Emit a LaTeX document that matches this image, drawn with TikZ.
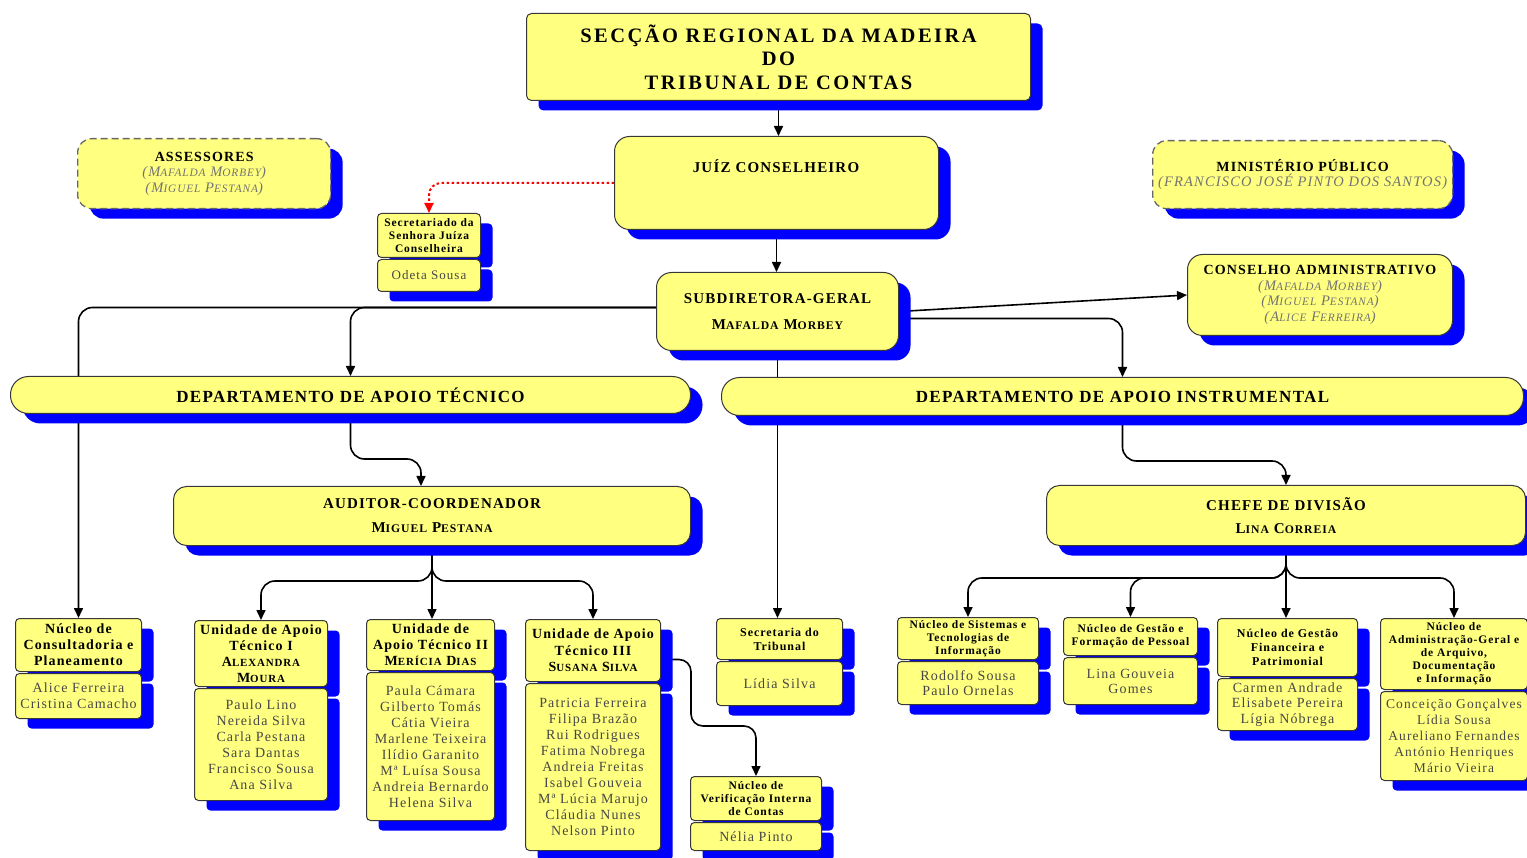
\documentclass[tikz,border=0pt]{standalone}
\usepackage{fontspec}
\setmainfont{Liberation Serif}[LetterSpace=8]
\newfontfamily\ttlfont{Liberation Serif}[LetterSpace=12]
\usetikzlibrary{arrows.meta,shadows}
\makeatletter
\newcommand\smc[1]{{\fontsize{\fpeval{0.78*\f@size}}{\f@baselineskip}\selectfont #1}}
\makeatother
\definecolor{boxfill}{RGB}{255,255,128}
\definecolor{shade}{RGB}{0,0,255}
\definecolor{edgec}{RGB}{55,55,55}
\pgfdeclarelayer{bg}
\pgfsetlayers{bg,main}
\tikzset{
  box/.style={draw=edgec, line width=1pt, fill=boxfill, rounded corners=4pt,
    inner sep=0pt, anchor=north west, align=center,
    drop shadow={shadow xshift=12pt, shadow yshift=-10pt, fill=shade, opacity=1}},
  dashbox/.style={box, draw=black!60, line width=1.3pt, dash pattern=on 7pt off 4pt, rounded corners=14pt},
  ttlf/.style={font=\ttlfont\bfseries\fontsize{20.5}{23.5}\selectfont},
  bigf/.style={font=\bfseries\fontsize{15}{26}\selectfont},
  deptf/.style={font=\bfseries\fontsize{17}{20}\selectfont},
  hdrL/.style={font=\bfseries\fontsize{14}{16}\selectfont},
  hdrS/.style={font=\bfseries\fontsize{11.5}{13}\selectfont},
  bodyf/.style={font=\fontsize{14}{16}\selectfont, text=black!72},
  namef/.style={font=\fontsize{14.5}{15.5}\selectfont},
  conn/.style={draw=black, line width=1.6pt, -{Triangle[length=10pt,width=9pt]}},
  redconn/.style={draw=red, line width=2pt, dash pattern=on 2.5pt off 2.5pt,
    -{Triangle[length=10pt,width=9pt]}},
}
\newcommand\nm[1]{{\itshape\color{black!55}#1}}
\begin{document}
\begin{tikzpicture}[x=1pt,y=-1pt]
\useasboundingbox (0,0) rectangle (1527,858);

% top
\node[box, rounded corners=5pt, minimum width=504pt, minimum height=87pt, ttlf] (title) at (526,13)
  {SECÇÃO REGIONAL DA MADEIRA\\DO\\TRIBUNAL DE CONTAS};
\node[box, rounded corners=15pt, minimum width=324pt, minimum height=93pt] (juiz) at (614,136) {};
\node[bigf, anchor=center, inner sep=0pt] (juizt) at (776,166) {JUÍZ CONSELHEIRO};

\node[dashbox, minimum width=253pt, minimum height=70pt, namef] (ass) at (77,138)
  {{\bfseries\fontsize{14}{16}\selectfont ASSESSORES}\\
   \nm{(M\smc{AFALDA} M\smc{ORBEY})}\\
   \nm{(M\smc{IGUEL} P\smc{ESTANA})}};
\node[dashbox, minimum width=300pt, minimum height=68pt, namef] (min) at (1152,140)
  {{\bfseries\fontsize{14}{16}\selectfont MINISTÉRIO PÚBLICO}\\
   \nm{(FRANCISCO JOSÉ PINTO DOS SANTOS)}};

\node[box, minimum width=103pt, minimum height=44pt, hdrS] (secJh) at (377,213)
  {Secretariado da\\Senhora Juíza\\Conselheira};
\node[box, minimum width=103pt, minimum height=32pt, bodyf, font=\fontsize{13}{15}\selectfont] (secJb) at (377,259)
  {Odeta Sousa};

\node[box, rounded corners=15pt, minimum width=242pt, minimum height=78pt, bigf] (sub) at (656,272)
  {SUBDIRETORA-GERAL\\M\smc{AFALDA} M\smc{ORBEY}};
\node[box, rounded corners=15pt, minimum width=265pt, minimum height=81pt, namef] (cons) at (1187,254)
  {{\bfseries\fontsize{14}{16}\selectfont CONSELHO ADMINISTRATIVO}\\
   \nm{(M\smc{AFALDA} M\smc{ORBEY})}\\
   \nm{(M\smc{IGUEL} P\smc{ESTANA})}\\
   \nm{(A\smc{LICE} F\smc{ERREIRA})}};

\node[box, rounded corners=18pt, minimum width=680pt, minimum height=37pt, deptf] (dat) at (10,376)
  {DEPARTAMENTO DE APOIO TÉCNICO};
\node[box, rounded corners=18pt, minimum width=802pt, minimum height=38pt, deptf] (dai) at (721,377)
  {DEPARTAMENTO DE APOIO INSTRUMENTAL};

\node[box, rounded corners=13pt, minimum width=517pt, minimum height=59pt, bigf, font=\bfseries\fontsize{15}{24}\selectfont] (aud) at (173,486)
  {AUDITOR-COORDENADOR\\M\smc{IGUEL} P\smc{ESTANA}};
\node[box, rounded corners=13pt, minimum width=479pt, minimum height=60pt, bigf, font=\bfseries\fontsize{15}{23}\selectfont] (chefe) at (1046,485)
  {CHEFE DE DIVISÃO\\L\smc{INA} C\smc{ORREIA}};

% bottom left
\node[box, minimum width=126pt, minimum height=53pt, hdrL] (nucAh) at (15,618)
  {Núcleo de\\Consultadoria e\\Planeamento};
\node[box, minimum width=126pt, minimum height=45pt, bodyf] (nucAb) at (15,673)
  {Alice Ferreira\\Cristina Camacho};

\node[box, minimum width=133pt, minimum height=66pt, hdrL] (ua1h) at (194,620)
  {Unidade de Apoio\\Técnico I\\A\smc{LEXANDRA}\\M\smc{OURA}};
\node[box, minimum width=133pt, minimum height=112pt, bodyf] (ua1b) at (194,688)
  {Paulo Lino\\Nereida Silva\\Carla Pestana\\Sara Dantas\\Francisco Sousa\\Ana Silva};

\node[box, minimum width=128pt, minimum height=51pt, hdrL] (ua2h) at (366,619)
  {Unidade de\\Apoio Técnico II\\M\smc{ERÍCIA} D\smc{IAS}};
\node[box, minimum width=128pt, minimum height=148pt, bodyf] (ua2b) at (366,672)
  {Paula Cámara\\Gilberto Tomás\\Cátia Vieira\\Marlene Teixeira\\Ilídio Garanito\\Mª Luísa Sousa\\Andreia Bernardo\\Helena Silva};

\node[box, minimum width=135pt, minimum height=62pt, hdrL, font=\bfseries\fontsize{14}{16.5}\selectfont] (ua3h) at (525,619)
  {Unidade de Apoio\\Técnico III\\S\smc{USANA} S\smc{ILVA}};
\node[box, minimum width=135pt, minimum height=167pt, bodyf] (ua3b) at (525,683)
  {Patricia Ferreira\\Filipa Brazão\\Rui Rodrigues\\Fatima Nobrega\\Andreia Freitas\\Isabel Gouveia\\Mª Lúcia Marujo\\Cláudia Nunes\\Nelson Pinto};

\node[box, minimum width=126pt, minimum height=41pt, hdrS, font=\bfseries\fontsize{12}{14}\selectfont] (secTh) at (716,618)
  {Secretaria do\\Tribunal};
\node[box, minimum width=126pt, minimum height=44pt, bodyf] (secTb) at (716,661)
  {Lídia Silva};

\node[box, minimum width=131pt, minimum height=44pt, hdrS] (nvich) at (690,776)
  {Núcleo de\\Verificação Interna\\de Contas};
\node[box, minimum width=131pt, minimum height=28pt, bodyf] (nvicb) at (690,822)
  {Nélia Pinto};

% bottom right
\node[box, minimum width=141pt, minimum height=42pt, hdrS] (nsh) at (897,617)
  {Núcleo de Sistemas e\\Tecnologias de\\Informação};
\node[box, minimum width=141pt, minimum height=43pt, bodyf, font=\fontsize{14}{15}\selectfont] (nsb) at (897,661)
  {Rodolfo Sousa\\Paulo Ornelas};

\node[box, minimum width=134pt, minimum height=38pt, hdrS] (ngph) at (1063,617)
  {Núcleo de Gestão e\\Formação de Pessoal};
\node[box, minimum width=134pt, minimum height=47pt, bodyf, font=\fontsize{14}{15}\selectfont] (ngpb) at (1063,657)
  {Lina Gouveia\\Gomes};

\node[box, minimum width=140pt, minimum height=58pt, hdrS, font=\bfseries\fontsize{12}{14}\selectfont] (ngfh) at (1217,618)
  {Núcleo de Gestão\\Financeira e\\Patrimonial};
\node[box, minimum width=140pt, minimum height=52pt, bodyf, font=\fontsize{14}{15.5}\selectfont] (ngfb) at (1217,678)
  {Carmen Andrade\\Elisabete Pereira\\Lígia Nóbrega};

\node[box, minimum width=147pt, minimum height=71pt, hdrS] (nadh) at (1380,618)
  {Núcleo de\\Administração-Geral e\\de Arquivo,\\Documentação\\e Informação};
\node[box, minimum width=147pt, minimum height=89pt, bodyf, font=\fontsize{13.5}{16}\selectfont] (nadb) at (1380,691)
  {Conceição Gonçalves\\Lídia Sousa\\Aureliano Fernandes\\António Henriques\\Mário Vieira};

% connectors
\begin{pgfonlayer}{bg}
\draw[conn] (title.south) -- (title.south |- juiz.north);
\draw[conn] (juiz.south) -- (juiz.south |- sub.north);
\draw[redconn, rounded corners=12pt] (juiz.west) -| (secJh.north);
\draw[conn, rounded corners=14pt] ([yshift=4pt]sub.west) -| (nucAh.north);
\draw[conn, rounded corners=14pt] ([yshift=4pt]sub.west) -| (dat.north);
\draw[conn] (sub.east) -- (cons.west);
\draw[conn, rounded corners=14pt] ([yshift=-7pt]sub.east) -| (dai.north);
\draw[conn] (sub.south) -- (sub.south |- secTh.north);
\draw[conn, rounded corners=14pt] (dat.south) -- ++(0,45) -| ([xshift=-11pt]aud.north);
\draw[conn, rounded corners=14pt] (dai.south) -- ++(0,45) -| (chefe.north);
\draw[conn, rounded corners=14pt] (aud.south) -- ++(0,35) -| (ua1h.north);
\draw[conn] (aud.south) -- (aud.south |- ua2h.north);
\draw[conn, rounded corners=14pt] (aud.south) -- ++(0,35) -| (ua3h.north);
\draw[conn, rounded corners=14pt] (chefe.south) -- ++(0,32) -| (nsh.north);
\draw[conn, rounded corners=14pt] (chefe.south) -- ++(0,32) -| (ngph.north);
\draw[conn] (chefe.south) -- (chefe.south |- ngfh.north);
\draw[conn, rounded corners=14pt] (chefe.south) -- ++(0,32) -| (nadh.north);
\draw[conn, rounded corners=12pt] ([yshift=-9pt]ua3h.east) -- ++(30,0) |- ([yshift=50pt]nvich.north) -- (nvich.north);
\end{pgfonlayer}
\end{tikzpicture}
\end{document}
